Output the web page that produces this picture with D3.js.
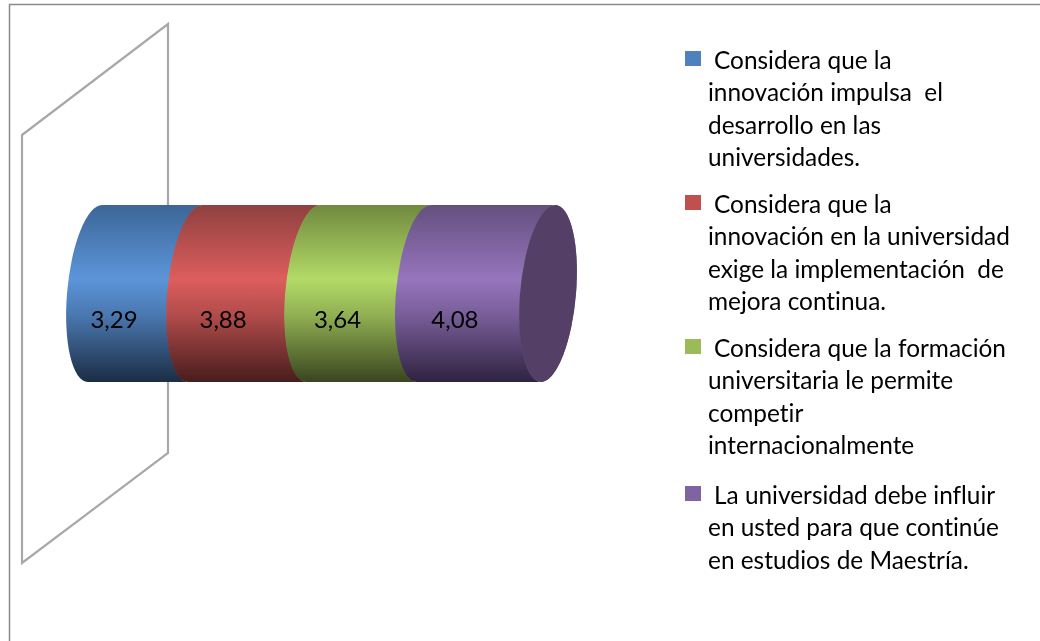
<!DOCTYPE html>
<html>
<head>
<meta charset="utf-8">
<script src="https://cdn.jsdelivr.net/npm/d3@7"></script>
<style>
  html, body { margin: 0; padding: 0; background: #fff; }
  svg { display: block; filter: blur(0.4px); }
  text { font-family: Lato, "Open Sans", sans-serif; fill: #000; font-variant-ligatures: none; }
</style>
</head>
<body>
<svg id="chart" width="1040" height="641"></svg>
<script>
const values = [3.29, 3.88, 3.64, 4.08];
const valueLabels = ["3,29", "3,88", "3,64", "4,08"];
const legendSwatches = ["#4f81bd", "#c0504d", "#9bbb59", "#8064a2"];
const topShades = ["#3c6696", "#8f4140", "#71893f", "#64507f"];
const midShades = ["#5c95da", "#dc5e5d", "#b3da67", "#9675bc"];
const lowShades = ["#1b2d44", "#471d1c", "#39451f", "#2f2240"];
const legendLines = [
  ["Considera que la", "innovación impulsa  el", "desarrollo en las", "universidades."],
  ["Considera que la", "innovación en la universidad", "exige la implementación  de", "mejora continua."],
  ["Considera que la formación", "universitaria le permite", "competir", "internacionalmente"],
  ["La universidad debe influir", "en usted para que continúe", "en estudios de Maestría."]
];
const legendTops = [60, 204, 348, 495];

const svg = d3.select("#chart");
const defs = svg.append("defs");

// outer chart border, only top and left show in the picture
svg.append("path")
  .attr("d", "M9.5,641V4.5H1040")
  .attr("fill", "none")
  .attr("stroke", "#8a8a8a")
  .attr("stroke-width", 1.5);

// the 3d wall behind the bar
svg.append("path")
  .attr("d", "M22,135L168,24V453L22,563Z")
  .attr("fill", "none")
  .attr("stroke", "#a8a8a8")
  .attr("stroke-width", 2.2);

const total = d3.sum(values);
const xScale = d3.scaleLinear().domain([0, total]).range([95, 548]);
const yScale = d3.scaleBand().domain(["bar"]).range([205, 382]);
const cy = yScale("bar") + yScale.bandwidth() / 2;
const ry = yScale.bandwidth() / 2;
const rx = 28;

let stacked = [];
let running = 0;
values.forEach(function(v, i) {
  stacked.push({ i: i, start: running, end: running + v, label: valueLabels[i] });
  running += v;
});

stacked.forEach(function(d) {
  const grad = defs.append("linearGradient")
    .attr("id", "shade" + d.i)
    .attr("x1", 0).attr("y1", 0).attr("x2", 0).attr("y2", 1);
  grad.append("stop").attr("offset", "0%").attr("stop-color", topShades[d.i]);
  grad.append("stop").attr("offset", "42%").attr("stop-color", midShades[d.i]);
  grad.append("stop").attr("offset", "62%").attr("stop-color", d3.interpolateRgb(midShades[d.i], lowShades[d.i])(0.28));
  grad.append("stop").attr("offset", "100%").attr("stop-color", lowShades[d.i]);
});

// ends of the cylinder lean a little, so the whole bar is skewed around its middle
const bar = svg.append("g")
  .attr("transform", "translate(0," + cy + ") skewX(-4.6)");

bar.selectAll("path.segment")
  .data(stacked)
  .enter()
  .append("path")
  .attr("class", "segment")
  .attr("fill", function(d) { return "url(#shade" + d.i + ")"; })
  .attr("d", function(d) {
    const x0 = xScale(d.start), x1 = xScale(d.end);
    // +0.6 closes the hairline between neighbours
    return "M" + x0 + "," + (-ry)
      + "L" + (x1 + 0.6) + "," + (-ry)
      + "A" + rx + "," + ry + " 0 0 0 " + (x1 + 0.6) + "," + ry
      + "L" + x0 + "," + ry
      + "A" + rx + "," + ry + " 0 0 1 " + x0 + "," + (-ry) + "Z";
  });

// right cap, the purple body wraps round it on the far side
bar.append("path")
  .attr("fill", "url(#shade3)")
  .attr("d", "M" + xScale(total) + "," + (-ry)
    + "A" + rx + "," + ry + " 0 0 1 " + xScale(total) + "," + ry + "Z");

bar.append("ellipse")
  .attr("cx", xScale(total))
  .attr("cy", 0)
  .attr("rx", rx)
  .attr("ry", ry)
  .attr("fill", "#544066");

// value labels
svg.selectAll("text.value")
  .data(stacked)
  .enter()
  .append("text")
  .attr("class", "value")
  .attr("x", function(d) { return xScale((d.start + d.end) / 2) - 31; })
  .attr("y", 328)
  .attr("text-anchor", "middle")
  .style("font-size", "24px")
  .text(function(d) { return d.label; });

// legend
const legend = svg.selectAll("g.legend")
  .data(legendLines)
  .enter()
  .append("g")
  .attr("class", "legend");

legend.append("rect")
  .attr("x", 685)
  .attr("y", function(d, i) { return legendTops[i] - 9; })
  .attr("width", 16)
  .attr("height", 15)
  .attr("fill", function(d, i) { return legendSwatches[i]; });

legend.each(function(lines, i) {
  d3.select(this).selectAll("text")
    .data(lines)
    .enter()
    .append("text")
    .attr("x", function(d, j) { return j == 0 ? 714 : 708; })
    .attr("y", function(d, j) { return legendTops[i] + 9 + j * 32.3; })
    .style("font-size", "24.4px")
    .style("white-space", "pre")
    .text(function(d) { return d; });
});
</script>
</body>
</html>
